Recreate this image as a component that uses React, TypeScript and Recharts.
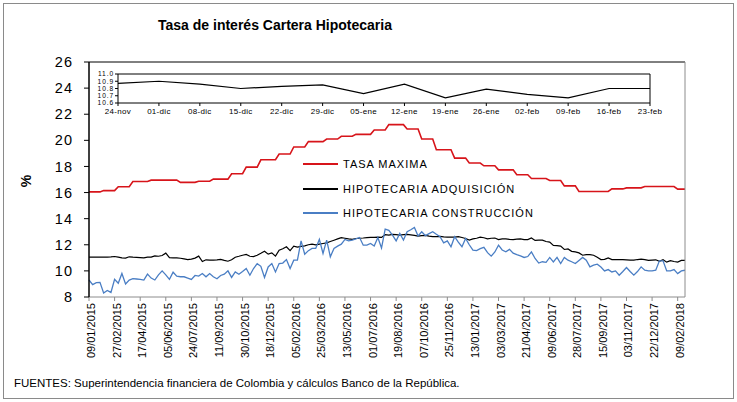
import { LineChart, Line, XAxis, YAxis, ReferenceLine } from "recharts";

const FONT = '"Liberation Sans", Arial, sans-serif';

// weekly observations, first one 09/01/2015
const FIRST_WEEK = [2015, 0, 9];
const WEEKS = 164;

const TASA_MAXIMA = [
  16.05, 16.05, 16.05, 16.05, 16.15, 16.15, 16.15, 16.15, 16.45, 16.45,
  16.45, 16.45, 16.85, 16.85, 16.85, 16.85, 16.85, 16.95, 16.95, 16.95,
  16.95, 16.95, 16.95, 16.95, 16.95, 16.78, 16.78, 16.78, 16.78, 16.78,
  16.87, 16.87, 16.87, 16.87, 17.03, 17.03, 17.03, 17.03, 17.03, 17.44,
  17.44, 17.44, 17.44, 17.95, 17.95, 17.95, 17.95, 18.51, 18.51, 18.51,
  18.51, 18.51, 18.95, 18.95, 18.95, 18.95, 19.49, 19.49, 19.49, 19.49,
  19.9, 19.9, 19.9, 19.9, 19.9, 20.1, 20.1, 20.1, 20.1, 20.31,
  20.31, 20.31, 20.31, 20.46, 20.46, 20.46, 20.46, 20.46, 20.79, 20.79,
  20.79, 20.79, 21.2, 21.2, 21.2, 21.2, 21.2, 20.87, 20.87, 20.87,
  20.87, 20.1, 20.1, 20.1, 20.1, 19.28, 19.28, 19.28, 19.28, 19.28,
  18.64, 18.64, 18.64, 18.64, 18.26, 18.26, 18.26, 18.26, 18.05, 18.05,
  18.05, 18.05, 17.74, 17.74, 17.74, 17.74, 17.74, 17.36, 17.36, 17.36,
  17.36, 17.08, 17.08, 17.08, 17.08, 17.08, 16.92, 16.92, 16.92, 16.92,
  16.51, 16.51, 16.51, 16.51, 16.08, 16.08, 16.08, 16.08, 16.08, 16.08,
  16.08, 16.08, 16.08, 16.28, 16.28, 16.28, 16.28, 16.36, 16.36, 16.36,
  16.36, 16.36, 16.46, 16.46, 16.46, 16.46, 16.46, 16.46, 16.46, 16.46,
  16.46, 16.26, 16.26, 16.26,
];

const ADQUISICION = [
  11.05, 11.05, 11.05, 11.06, 11.05, 11.06, 11.07, 11.1, 11.05, 11.0,
  10.98, 11.08, 11.05, 11.04, 11.02, 11.0, 11.06, 11.05, 11.15, 11.12,
  11.18, 11.36, 11.02, 11.0, 11.0, 10.97, 10.92, 10.87, 10.9, 10.98,
  11.13, 10.72, 10.85, 10.82, 10.83, 10.84, 10.88, 10.8, 10.74, 10.85,
  11.05, 11.12, 11.2, 11.26, 11.12, 11.1, 11.2, 11.35, 11.51, 11.28,
  11.38, 11.13, 11.59, 11.7, 11.85, 11.55, 11.9, 11.82, 11.88, 11.92,
  12.0, 12.05, 12.0, 12.05, 12.1, 12.15, 12.25, 12.35, 12.45, 12.55,
  12.5, 12.45, 12.41, 12.48, 12.5, 12.52, 12.55, 12.56, 12.56, 12.58,
  12.56, 12.77, 12.74, 12.8, 12.78, 12.74, 12.78, 12.8, 12.76, 12.72,
  12.66, 12.7, 12.72, 12.66, 12.62, 12.62, 12.64, 12.6, 12.58, 12.58,
  12.58, 12.62, 12.56, 12.48, 12.36, 12.45, 12.5, 12.58, 12.54, 12.45,
  12.5, 12.52, 12.4, 12.45, 12.45, 12.42, 12.4, 12.43, 12.45, 12.4,
  12.4, 12.52, 12.33, 12.36, 12.36, 12.25, 12.2, 11.95, 11.93, 11.9,
  11.64, 11.68, 11.5, 11.45, 11.38, 11.2, 11.25, 11.24, 11.2, 11.05,
  10.87, 10.88, 11.0, 10.87, 10.87, 10.86, 10.86, 10.84, 10.82, 10.82,
  10.87, 10.9, 10.86, 10.8, 10.83, 10.85, 10.73, 10.86, 10.67, 10.79,
  10.72, 10.67, 10.8, 10.8,
];

const CONSTRUCCION = [
  9.3, 8.95, 9.1, 9.12, 8.3, 8.5, 8.35, 9.35, 9.05, 9.8,
  9.0, 9.3, 9.4, 9.38, 9.35, 9.3, 9.75, 9.45, 9.3, 9.7,
  10.0, 9.7, 9.35, 9.9, 9.6, 9.55, 9.55, 9.45, 9.35, 9.65,
  9.6, 9.8, 9.55, 9.8, 9.55, 9.4, 9.65, 9.75, 10.0, 9.5,
  9.92, 9.74, 9.95, 10.18, 9.67, 10.18, 10.55, 10.35, 9.49, 10.3,
  10.56, 9.92, 10.56, 10.6, 10.87, 10.18, 10.82, 10.82, 12.3, 11.28,
  11.55, 11.72, 11.72, 12.41, 11.33, 12.36, 11.08, 11.72, 11.9, 12.05,
  12.41, 12.3, 12.36, 12.45, 12.56, 11.97, 11.98, 12.1, 11.9, 12.56,
  11.75, 13.2, 13.1, 12.74, 12.3, 12.87, 12.36, 13.0, 13.15, 13.33,
  12.67, 13.0, 12.7, 12.85, 13.0, 12.8, 12.62, 12.15, 12.3, 11.85,
  12.62, 12.2, 11.85, 12.49, 12.0, 11.59, 11.55, 11.7, 11.8, 11.4,
  11.13, 11.45, 11.97, 11.6, 11.46, 11.65, 11.36, 11.25, 11.15, 11.03,
  11.1, 11.46, 10.95, 10.6, 10.7, 10.65, 11.03, 10.69, 11.03, 10.56,
  11.03, 10.82, 10.7, 10.56, 10.8, 11.03, 10.82, 10.31, 10.44, 10.51,
  10.3, 10.0, 10.1, 9.92, 10.0, 9.67, 9.95, 10.26, 9.95, 9.67,
  9.95, 10.31, 10.05, 10.0, 10.0, 10.05, 10.77, 10.77, 10.0, 10.0,
  10.1, 9.79, 10.0, 10.05,
];

const TICK_LABELS = [
  "09/01/2015", "27/02/2015", "17/04/2015", "05/06/2015", "24/07/2015", "11/09/2015",
  "30/10/2015", "18/12/2015", "05/02/2016", "25/03/2016", "13/05/2016", "01/07/2016",
  "19/08/2016", "07/10/2016", "25/11/2016", "13/01/2017", "03/03/2017", "21/04/2017",
  "09/06/2017", "28/07/2017", "15/09/2017", "03/11/2017", "22/12/2017", "09/02/2018",
];

const Y_TICKS = [8, 10, 12, 14, 16, 18, 20, 22, 24, 26];

const INSET_LABELS = [
  "24-nov", "01-dic", "08-dic", "15-dic", "22-dic", "29-dic", "05-ene",
  "12-ene", "19-ene", "26-ene", "02-feb", "09-feb", "16-feb", "23-feb",
];
const INSET_TICKS = [10.6, 10.7, 10.8, 10.9, 11.0];

const LEGEND = [
  { color: "#d7141a", label: "TASA MAXIMA", top: 164 },
  { color: "#000000", label: "HIPOTECARIA ADQUISICIÓN", top: 189 },
  { color: "#4a7ec4", label: "HIPOTECARIA CONSTRUCCIÓN", top: 213 },
];

const pad = (n: number) => String(n).padStart(2, "0");

const data = Array.from({ length: WEEKS }, (_, i) => {
  const d = new Date(Date.UTC(FIRST_WEEK[0], FIRST_WEEK[1], FIRST_WEEK[2] + 7 * i));
  return {
    label: `${pad(d.getUTCDate())}/${pad(d.getUTCMonth() + 1)}/${d.getUTCFullYear()}`,
    max: TASA_MAXIMA[i],
    adq: ADQUISICION[i],
    con: CONSTRUCCION[i],
  };
});

const insetValues = ADQUISICION.slice(-INSET_LABELS.length);
const insetData = INSET_LABELS.map((label, i) => ({ label, v: insetValues[i] }));

function DateTick(props: any) {
  const { x, y, payload } = props;
  return (
    <g transform={`translate(${x},${y})`}>
      <text transform="rotate(-90)" x={0} y={6} textAnchor="end" fontSize={11} fill="#000" fontFamily={FONT}>
        {payload.value}
      </text>
    </g>
  );
}

// small, wide labels of the zoomed panel
function InsetYTick(props: any) {
  const { x, y, payload } = props;
  return (
    <text x={x} y={y} dy={2.3} textAnchor="end" fontSize={6.6} letterSpacing={0.9} fill="#000" fontFamily={FONT}>
      {Number(payload.value).toFixed(1)}
    </text>
  );
}

export default function App() {
  return (
    <div style={{ position: "absolute", left: 0, top: 0, width: 737, height: 402, background: "#fff", fontFamily: FONT }}>
      <div style={{ position: "absolute", left: 3, top: 3, width: 729, height: 394, border: "1.5px solid #8a8a8a" }} />

      <div style={{ position: "absolute", left: 0, top: 16, width: 550, textAlign: "center", fontSize: 14, fontWeight: "bold", lineHeight: "18px" }}>
        Tasa de interés Cartera Hipotecaria
      </div>

      <div style={{ position: "absolute", left: 0, top: 0 }}>
        <LineChart width={737} height={402} data={data} margin={{ top: 62, right: 0, bottom: 45, left: 0 }}>
          <XAxis
            dataKey="label"
            ticks={TICK_LABELS}
            interval={0}
            height={60}
            tickSize={4}
            axisLine={{ stroke: "#8c8c8c" }}
            tickLine={{ stroke: "#8c8c8c" }}
            tick={<DateTick />}
          />
          <YAxis
            yAxisId="l"
            domain={[8, 26]}
            ticks={Y_TICKS}
            interval={0}
            width={89}
            tickSize={5}
            tickMargin={11}
            axisLine={{ stroke: "#000", strokeWidth: 1.5 }}
            tickLine={{ stroke: "#000" }}
            tick={{ fontSize: 14.5, fill: "#000", fontFamily: FONT, letterSpacing: 1 }}
          />
          <YAxis
            yAxisId="r"
            orientation="right"
            domain={[8, 26]}
            ticks={Y_TICKS}
            interval={0}
            width={52}
            tickSize={5}
            tickMargin={7}
            axisLine={{ stroke: "#8c8c8c" }}
            tickLine={{ stroke: "#8c8c8c" }}
            tick={{ fontSize: 14.5, fill: "#000", fontFamily: FONT, letterSpacing: 1 }}
          />
          <ReferenceLine yAxisId="l" y={26} stroke="#000" strokeWidth={1} />
          <Line yAxisId="l" dataKey="max" stroke="#d7141a" strokeWidth={1.6} dot={false} isAnimationActive={false} />
          <Line yAxisId="l" dataKey="adq" stroke="#000" strokeWidth={1.2} dot={false} isAnimationActive={false} />
          <Line yAxisId="l" dataKey="con" stroke="#4a7ec4" strokeWidth={1.3} dot={false} isAnimationActive={false} />
        </LineChart>
      </div>

      <div style={{ position: "absolute", left: 26, top: 181, transform: "translate(-50%,-50%) rotate(-90deg)", fontSize: 14, fontWeight: "bold" }}>
        %
      </div>

      {LEGEND.map((l) => (
        <div key={l.label} style={{ position: "absolute", left: 303, top: l.top - 8, height: 16, display: "flex", alignItems: "center" }}>
          <span style={{ display: "inline-block", width: 35, height: 1.5, background: l.color }} />
          <span style={{ marginLeft: 5, fontSize: 11, letterSpacing: 1, color: "#000" }}>{l.label}</span>
        </div>
      ))}

      <div style={{ position: "absolute", left: 90, top: 66 }}>
        <LineChart width={590} height={56} data={insetData} margin={{ top: 8, right: 30, bottom: 0, left: 0 }}>
          <XAxis
            dataKey="label"
            interval={0}
            height={19}
            tickSize={3}
            axisLine={{ stroke: "#000" }}
            tickLine={{ stroke: "#000" }}
            tick={{ fontSize: 8, fill: "#000", fontFamily: FONT, letterSpacing: 0.3 }}
          />
          <YAxis
            domain={[10.6, 11.0]}
            ticks={INSET_TICKS}
            interval={0}
            width={28}
            tickSize={3}
            tickMargin={1}
            axisLine={{ stroke: "#000" }}
            tickLine={{ stroke: "#000" }}
            tick={<InsetYTick />}
          />
          <ReferenceLine y={11.0} stroke="#000" />
          <ReferenceLine x="23-feb" stroke="#000" />
          <Line dataKey="v" stroke="#000" strokeWidth={1.2} dot={false} isAnimationActive={false} />
        </LineChart>
      </div>

      <div style={{ position: "absolute", left: 14, top: 377, fontSize: 11.5, color: "#000" }}>
        FUENTES: Superintendencia financiera de Colombia y cálculos Banco de la República.
      </div>
    </div>
  );
}
